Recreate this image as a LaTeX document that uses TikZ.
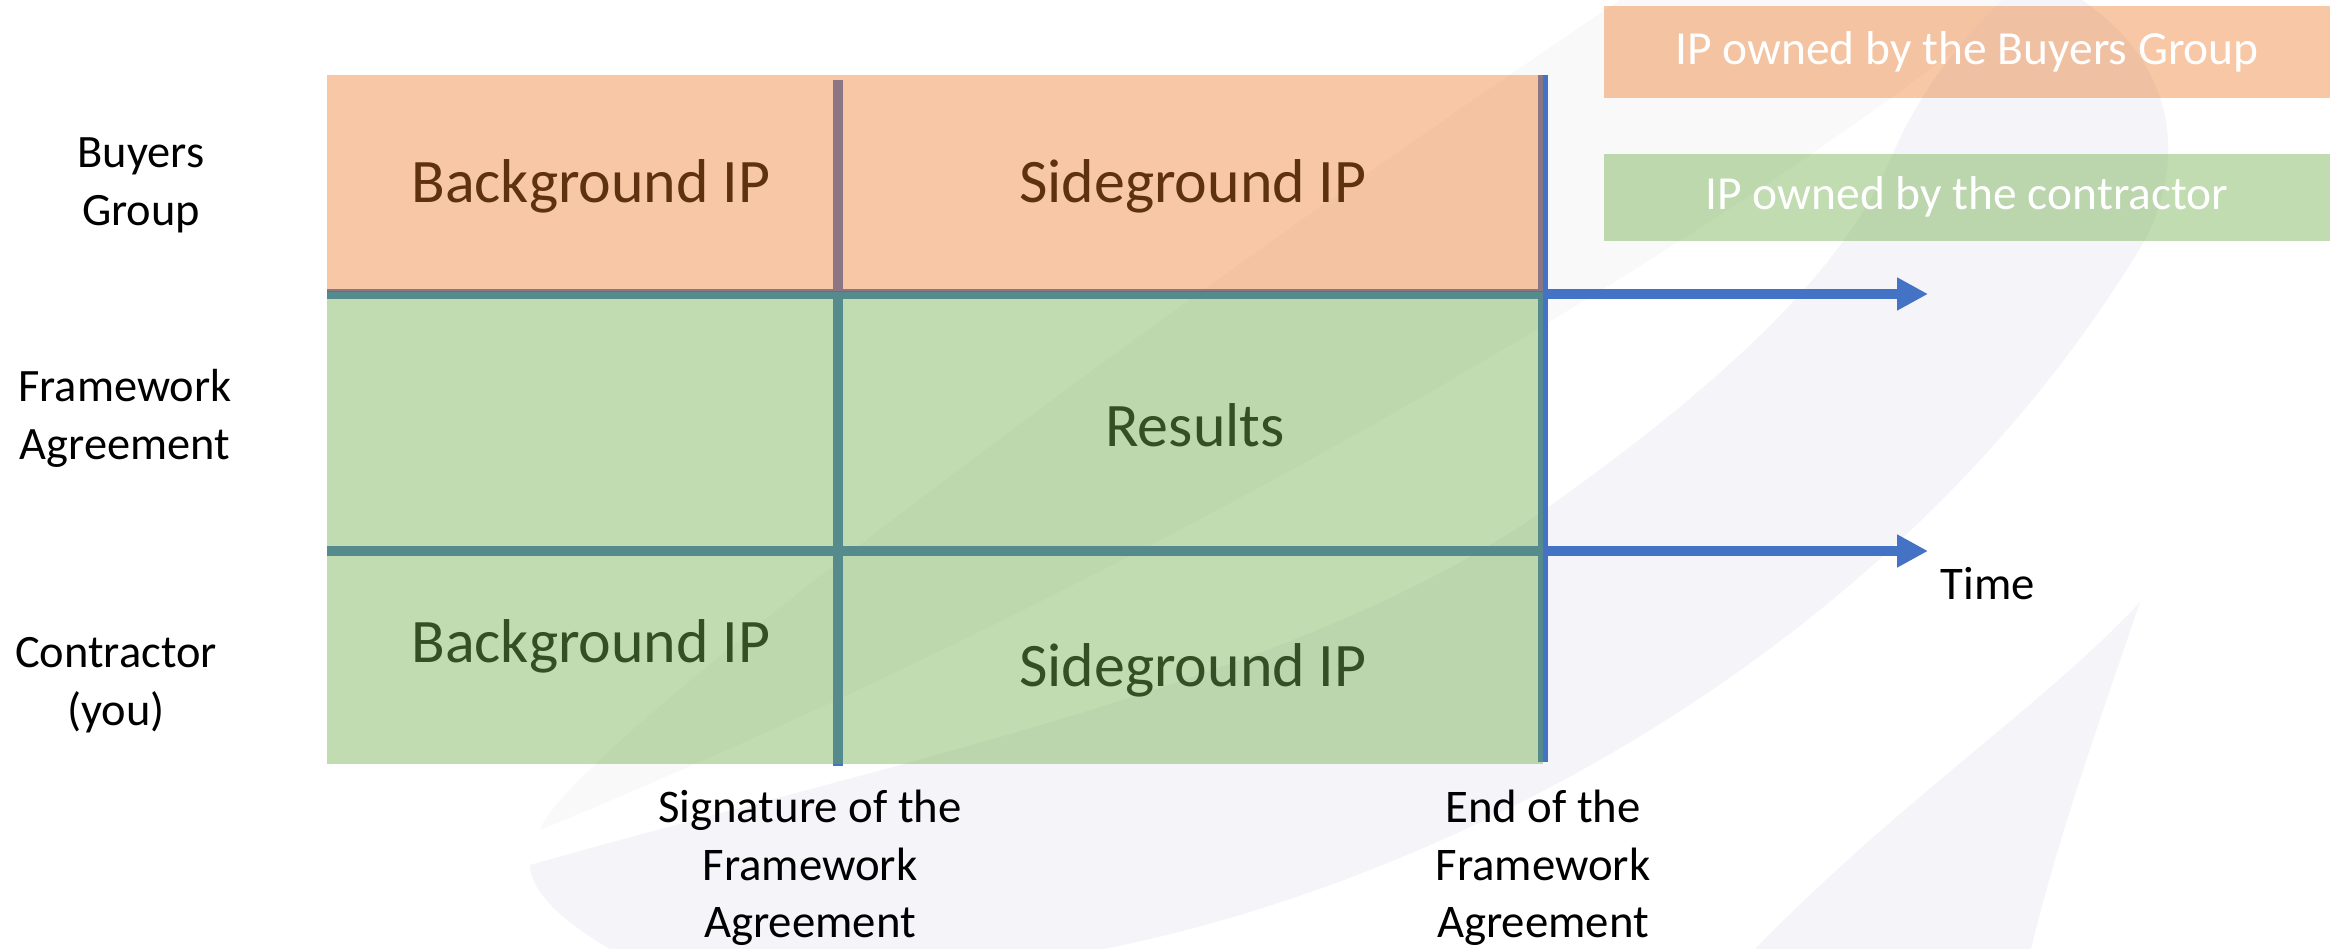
\documentclass[tikz,border=0pt]{standalone}
\usepackage{fontspec}
\setmainfont{Carlito}
\usetikzlibrary{arrows.meta}

\definecolor{peach}{HTML}{ED7D31}
\definecolor{leaf}{HTML}{70AD47}
\definecolor{timeblue}{HTML}{4472C4}
\definecolor{wmark}{HTML}{F4F4F9}
\definecolor{wgray}{HTML}{F9F9F9}
\definecolor{browntext}{HTML}{5E3210}
\definecolor{greentext}{HTML}{334F24}

\begin{document}
\begin{tikzpicture}[x = 0.01cm, y = -0.01cm,
		ownbuyer/.style = {fill = peach, fill opacity = 0.43},
		owncontr/.style = {fill = leaf, fill opacity = 0.43},
		timeline/.style = {timeblue, line width = 2.85pt},
		celltext/.style = {font = {\fontsize{17.6pt}{21pt}\selectfont}},
		sidetext/.style = {align = center, font = {\fontsize{13.2pt}{16.5pt}\selectfont}},
		datetext/.style = {align = center, font = {\fontsize{13.3pt}{16.3pt}\selectfont}},
		keytext/.style = {text = white, font = {\fontsize{13.5pt}{16pt}\selectfont}}]
			\useasboundingbox (0, 0) rectangle (2330, 949);
			% faint watermark behind everything
			\fill[wgray] (1620, 0) -- (2019, 0) .. controls (1700, 260) and (1100, 600) .. (540, 830)
				.. controls (560, 760) and (1100, 350) .. (1620, 0) -- cycle;
			\fill[wmark] (530, 865) .. controls (900, 760) and (1300, 680) .. (1540, 513)
				.. controls (1700, 400) and (1840, 280) .. (1890, 160)
				.. controls (1920, 90) and (1960, 40) .. (2003, 0) -- (2082, 0)
				.. controls (2170, 60) and (2190, 150) .. (2145, 240)
				.. controls (1900, 650) and (1450, 880) .. (1104, 949) -- (610, 949)
				.. controls (560, 920) and (530, 890) .. (530, 865) -- cycle;
			\fill[wmark] (1755, 949) .. controls (1900, 800) and (2050, 700) .. (2140, 602)
				.. controls (2100, 720) and (2060, 830) .. (2031, 949) -- cycle;
			% time lines
			\coordinate (topend) at (1928, 294);
			\coordinate (lowend) at (1928, 551);
			\draw[timeline, -{Triangle[length = 8.8pt, width = 8.8pt]}] (327, 294) -- (topend);
			\draw[timeline, -{Triangle[length = 8.8pt, width = 8.8pt]}] (327, 551) -- (lowend);
			\draw[timeline] (838, 80) -- (838, 766);
			\draw[timeline] (1543, 75) -- (1543, 762);
			% ownership rows
			\fill[ownbuyer] (327, 75) rectangle (1543, 291);
			\fill[owncontr] (327, 292) rectangle (1543, 551);
			\fill[owncontr] (327, 551) rectangle (1543, 764);
				\node[celltext, text = browntext] (bgbuyer) at (591, 186) {Background IP};
				\node[celltext, text = browntext] (sgbuyer) at (1193, 186) {Sideground IP};
				\node[celltext, text = greentext] (results) at (1195, 425) {Results};
				\node[celltext, text = greentext] (bgcontr) at (591, 646) {Background IP};
				\node[celltext, text = greentext] (sgcontr) at (1193, 670) {Sideground IP};
			% row labels
			\node[sidetext] (buyers) at (141, 185) {Buyers\\Group};
			\node[sidetext] (framework) at (125, 418) {Framework\\Agreement};
			\node[sidetext] (contractor) at (116, 685) {Contractor\\(you)};
			% dates
			\node[datetext] (signature) at (810, 868) {Signature of the\\Framework\\Agreement};
			\node[datetext] (end) at (1543, 868) {End of the\\Framework\\Agreement};
			\node[datetext] (time) at (1988, 584) {Time};
			% legend
			\fill[ownbuyer] (1604, 6) rectangle (2330, 98);
				\node[keytext] (keybuyer) at (1967, 52) {IP owned by the Buyers Group};
			\fill[owncontr] (1604, 154) rectangle (2330, 241);
				\node[keytext] (keycontr) at (1967, 197) {IP owned by the contractor};
		\end{tikzpicture}
\end{document}
